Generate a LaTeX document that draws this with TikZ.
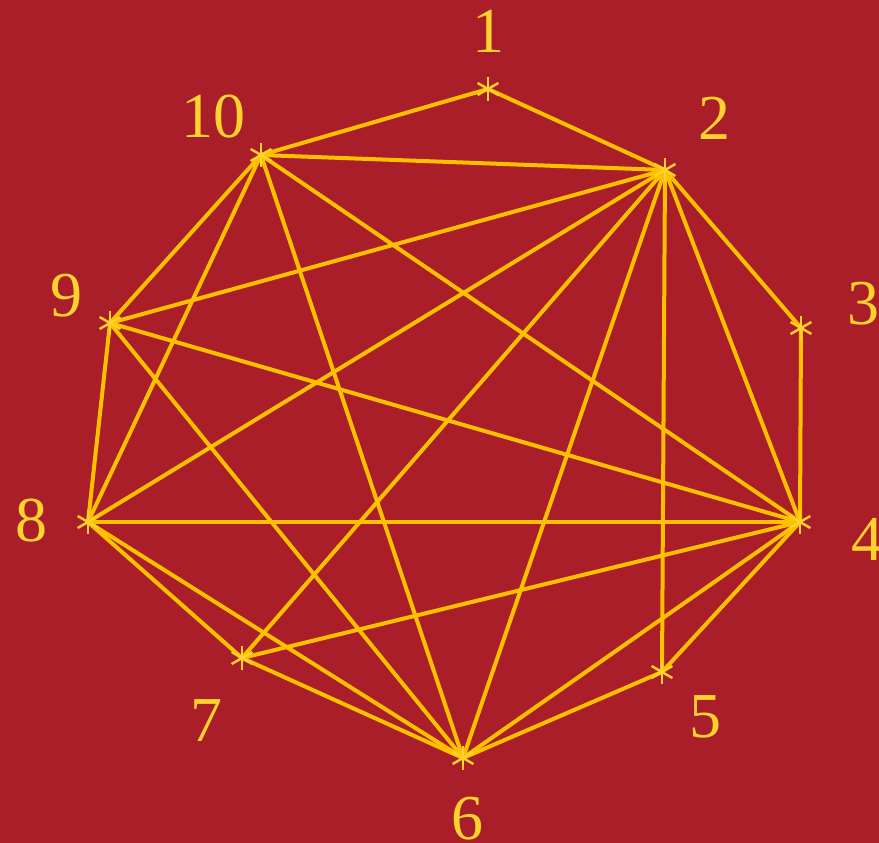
\documentclass[tikz,border=0pt]{standalone}
\usepackage{fontspec}
\setmainfont{Liberation Serif}
\definecolor{bg}{RGB}{170,30,42}
\definecolor{edge}{RGB}{255,192,0}
\definecolor{lab}{RGB}{255,210,45}
\begin{document}
\begin{tikzpicture}[x=1pt,y=-1pt,
  vtx/.style={inner sep=0pt,minimum size=0pt},
  lbl/.style={inner sep=0pt,text=lab,font=\fontsize{64}{70}\selectfont},
  ed/.style={draw=edge,line width=4pt},
  ast/.style={draw=lab,line width=2.4pt}]
\fill[bg] (0,0) rectangle (879,843);
\useasboundingbox (0,0) rectangle (879,843);
% vertices
\coordinate (v1) at (488,89);
\coordinate (v2) at (665,170);
\coordinate (v3) at (801,328);
\coordinate (v4) at (800,522);
\coordinate (v5) at (662,672);
\coordinate (v6) at (463,758);
\coordinate (v7) at (242,658);
\coordinate (v8) at (88,522);
\coordinate (v9) at (110,323);
\coordinate (v10) at (261,155);
% edges
\foreach \a/\b in {1/10,1/2,10/2,10/9,10/8,10/6,10/4,2/9,2/8,2/7,2/6,2/5,2/4,2/3,3/4,9/4,9/8,9/6,8/4,8/7,8/6,7/4,7/6,6/4,6/5,5/4}
  \draw[ed] (v\a) -- (v\b);
% asterisks
\foreach \i in {1,...,10}
  \foreach \ang in {90,210,330,30,150,270}
    \draw[ast] (v\i) -- ++(\ang:-12);
% labels
\node[lbl] (l1) at (488,31) {1};
\node[lbl] (l2) at (714,118) {2};
\node[lbl] (l3) at (863,304) {3};
\node[lbl] (l4) at (867,539) {4};
\node[lbl] (l5) at (705,717) {5};
\node[lbl] (l6) at (467,819) {6};
\node[lbl] (l7) at (206,721) {7};
\node[lbl] (l8) at (32,521) {8};
\node[lbl] (l9) at (66,296) {9};
\node[lbl] (l10) at (213,117) {10};
\end{tikzpicture}
\end{document}
